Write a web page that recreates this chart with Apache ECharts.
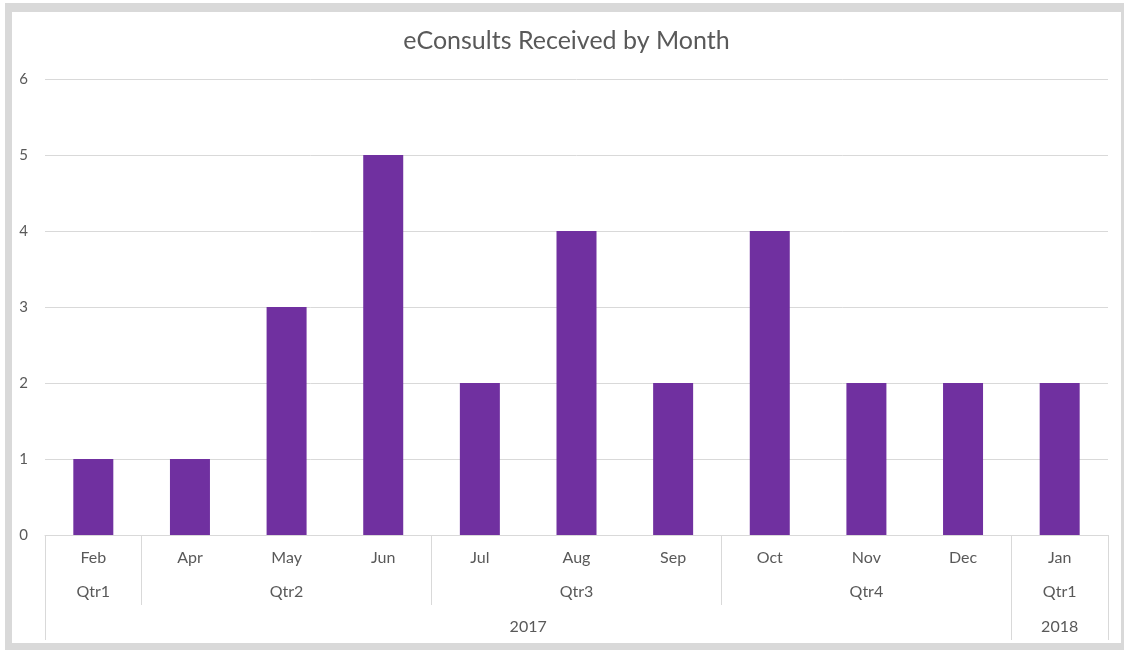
<!DOCTYPE html>
<html>
<head>
<meta charset="utf-8">
<script src="https://cdn.jsdelivr.net/npm/echarts@6/dist/echarts.min.js"></script>
<style>
    html, body { margin: 0; padding: 0; background: #fff; }
    #frame {
        position: absolute; left: 5px; top: 3px; width: 1119px; height: 647px;
        background: #d9d9d9;
    }
    #chart {
        position: absolute; left: 7px; top: 9px; width: 1109px; height: 631px;
        background: #fff;
    }
</style>
</head>
<body>
<div id="frame"><div id="chart"></div></div>
<script>
// 数据
const months = ['Feb', 'Apr', 'May', 'Jun', 'Jul', 'Aug', 'Sep', 'Oct', 'Nov', 'Dec', 'Jan'];
const values = [1, 1, 3, 5, 2, 4, 2, 4, 2, 2, 2];
const quarters = ['Qtr1', 'Qtr2', 'Qtr3', 'Qtr4', 'Qtr1'];
const quarterSpans = [1, 3, 3, 3, 1];
const years = ['2017', '2018'];
const yearSpans = [10, 1];

// 分组轴: 半个月为一格, 共 2*n+1 个点
function buildGroups(names, spans) {
    const labels = new Array(months.length * 2 + 1).fill('');
    const bounds = new Set();
    let start = 0;
    names.forEach((name, i) => {
        labels[2 * start + spans[i]] = name;
        bounds.add(2 * start);
        start += spans[i];
        bounds.add(2 * start);
    });
    return { labels, bounds };
}
const qGroups = buildGroups(quarters, quarterSpans);
const yGroups = buildGroups(years, yearSpans);
const halfSlots = qGroups.labels.map((_, i) => String(i));

const textColor = '#595959';
const lineColor = '#d9d9d9';
const font = 'Lato, "Open Sans", sans-serif';

function groupAxis(groups, margin, tickLen) {
    return {
        type: 'category',
        position: 'bottom',
        boundaryGap: false,
        data: halfSlots,
        axisLine: { show: false },
        axisTick: {
            show: true,
            length: tickLen,
            interval: (idx) => groups.bounds.has(idx),
            lineStyle: { color: lineColor }
        },
        axisLabel: {
            interval: 0,
            margin: margin,
            color: textColor,
            fontFamily: font,
            fontSize: 16,
            formatter: (v) => groups.labels[+v]
        },
        splitLine: { show: false }
    };
}

const chart = echarts.init(document.getElementById('chart'));
chart.setOption({
    animation: false,
    title: {
        text: 'eConsults Received by Month',
        left: 'center',
        top: 11,
        textStyle: { color: textColor, fontFamily: font, fontSize: 25, fontWeight: 'normal' }
    },
    grid: { left: 33, right: 13, top: 67, bottom: 108 },
    xAxis: [
        {
            type: 'category',
            data: months,
            axisLine: { lineStyle: { color: lineColor } },
            axisTick: { show: false },
            axisLabel: { color: textColor, fontFamily: font, fontSize: 16, margin: 15, interval: 0 }
        },
        groupAxis(qGroups, 49, 70),
        groupAxis(yGroups, 84, 105)
    ],
    yAxis: {
        type: 'value',
        min: 0,
        max: 6,
        interval: 1,
        axisLine: { show: false },
        axisTick: { show: false },
        axisLabel: { color: textColor, fontFamily: font, fontSize: 15, margin: 17 },
        splitLine: { lineStyle: { color: lineColor } }
    },
    series: [{
        type: 'bar',
        data: values,
        barWidth: 40,
        itemStyle: { color: '#7030a0' }
    }]
});
</script>
</body>
</html>
